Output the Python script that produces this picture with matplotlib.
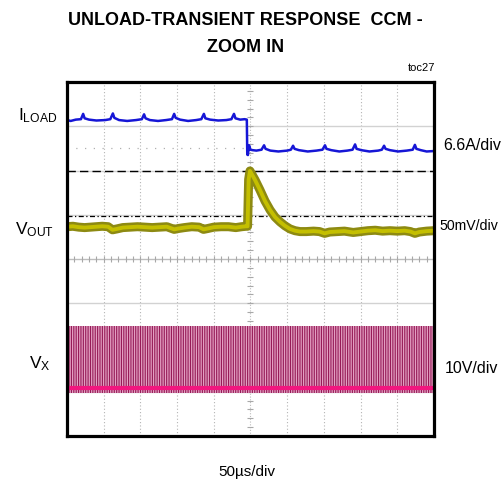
import matplotlib
matplotlib.use("Agg")
import matplotlib.pyplot as plt
from matplotlib import font_manager
import numpy as np

# pick a narrow Arial-like face if there is one
names = {f.name for f in font_manager.fontManager.ttflist}
narrow = "Liberation Sans Narrow" if "Liberation Sans Narrow" in names else "Liberation Sans"
plt.rcParams["font.family"] = ["Liberation Sans", "DejaVu Sans"]
plt.rcParams["hatch.linewidth"] = 0.9

# scope traces, time in us (50us/div), amplitude in screen divisions
iload_t = [0, 5, 12, 19, 22, 24, 30, 40, 52, 59, 62.5, 64.5, 71, 82, 94, 102, 105, 107, 113,
           124, 135, 143, 146, 148, 154, 165, 176, 183, 186.5, 188.5, 195, 206, 217, 224,
           227.5, 229.5, 236, 242, 245, 245.6, 246.5, 248, 250, 253, 258, 265, 268.5, 270.5,
           277, 288, 300, 305, 308, 310, 316, 328, 340, 348, 351.5, 353.5, 360, 371, 382, 389,
           392.5, 394.5, 401, 412, 424, 429, 432, 434, 440, 451, 463, 471, 474, 476, 482, 490, 500]
iload_v = [7.14, 7.12, 7.15, 7.16, 7.28, 7.18, 7.15, 7.13, 7.14, 7.16, 7.29, 7.19, 7.14, 7.12,
           7.14, 7.16, 7.27, 7.18, 7.14, 7.12, 7.14, 7.16, 7.28, 7.19, 7.15, 7.12, 7.14, 7.16,
           7.28, 7.18, 7.15, 7.13, 7.14, 7.16, 7.28, 7.18, 7.15, 7.16, 7.15, 6.36, 6.35, 6.57,
           6.47, 6.46, 6.45, 6.47, 6.57, 6.49, 6.45, 6.43, 6.45, 6.47, 6.56, 6.49, 6.46, 6.43,
           6.45, 6.47, 6.57, 6.49, 6.46, 6.43, 6.45, 6.47, 6.59, 6.49, 6.46, 6.43, 6.45, 6.47,
           6.56, 6.49, 6.46, 6.43, 6.45, 6.47, 6.58, 6.49, 6.46, 6.43, 6.44]

vout_t = [0, 8, 16, 24, 32, 40, 48, 56, 62, 68, 76, 86, 96, 106, 116, 126, 136, 146, 152, 160,
          170, 180, 186, 192, 200, 210, 220, 230, 238, 244, 246, 247.5, 249.3, 256.1, 262.9,
          269.8, 276.6, 283.4, 290.2, 297, 303.8, 310.6, 317.4, 326, 336, 344, 351, 358, 368,
          378, 390, 400, 410, 420, 430, 440, 450, 460, 468, 474, 480, 490, 500]
vout_v = [4.73, 4.74, 4.72, 4.71, 4.72, 4.73, 4.74, 4.73, 4.66, 4.68, 4.71, 4.72, 4.73, 4.72,
          4.71, 4.72, 4.73, 4.67, 4.69, 4.71, 4.73, 4.72, 4.67, 4.69, 4.72, 4.73, 4.73, 4.71,
          4.73, 4.74, 4.74, 5.80, 5.99, 5.79, 5.56, 5.31, 5.11, 4.95, 4.84, 4.75, 4.68, 4.64,
          4.62, 4.62, 4.63, 4.62, 4.58, 4.61, 4.62, 4.63, 4.60, 4.62, 4.64, 4.65, 4.63, 4.64,
          4.63, 4.64, 4.62, 4.58, 4.61, 4.63, 4.64]

vx_t = [0, 500]
vx_high = [2.48, 2.48]
vx_low = [0.98, 0.98]
vx_base = [1.09, 1.09]

cursor_a = 6.0     # dashed cursor
cursor_b = 4.97    # dash-dot cursor
iload_ref = 6.51   # dotted marker on the left half

fig = plt.figure(figsize=(5.03, 4.83), dpi=100)
ax = fig.add_axes([0.1332, 0.0973, 0.7296, 0.7329])
ax.set_xlim(0, 500)
ax.set_ylim(0, 8)
ax.set_xticks([])
ax.set_yticks([])
for s in ax.spines.values():
    s.set_linewidth(2.3)
    s.set_zorder(10)

# graticule
for gx in np.arange(50, 500, 50):
    if gx != 250:
        ax.axvline(gx, color="#b4b4b4", lw=0.8, ls=(0, (1, 2)), zorder=1)
for gy in [1, 2, 3, 5, 6, 7]:
    ax.axhline(gy, color="#d2d2d2", lw=1.0, zorder=1)
ax.axhline(4, color="#bdbdbd", lw=1.0, zorder=1)
ax.axvline(250, color="#bdbdbd", lw=0.8, ls=(0, (1, 1.5)), zorder=1)
ax.plot(np.arange(10, 500, 10), np.full(49, 4.0), ls="none", marker="|", ms=4,
        mew=0.8, color="#a8a8a8", zorder=1)
ax.plot(np.full(39, 250.0), np.arange(0.2, 8, 0.2), ls="none", marker="_", ms=4,
        mew=0.8, color="#a8a8a8", zorder=1)
ax.plot([0, 245], [iload_ref, iload_ref], color="#b0b0b0", lw=0.9, ls=(0, (1, 6)), zorder=1)

# cursors
ax.axhline(cursor_a, color="black", lw=1.0, ls=(0, (6, 3)), zorder=2)
ax.axhline(cursor_b, color="black", lw=0.9, ls=(0, (4, 2, 1, 2)), zorder=2)

# VX switching node
ax.fill_between(vx_t, vx_low, vx_high, facecolor="#961a57", edgecolor="#e3a0c2",
                hatch="|||||||", linewidth=0, zorder=3)
ax.plot(vx_t, vx_base, color="#f2167f", lw=3.0, zorder=4)

# VOUT
ax.plot(vout_t, vout_v, color="#8d8a12", lw=6.5, solid_joinstyle="round", zorder=4)
ax.plot(vout_t, vout_v, color="#c4bf00", lw=2.8, solid_joinstyle="round", zorder=5)

# ILOAD
ax.plot(iload_t, iload_v, color="#1616d6", lw=1.8, zorder=6)

# text
fig.text(0.487, 0.958, "UNLOAD-TRANSIENT RESPONSE  CCM -", ha="center", va="center",
         fontsize=16 if narrow != "Liberation Sans" else 13, fontweight="bold", family=narrow)
fig.text(0.489, 0.902, "ZOOM IN", ha="center", va="center",
         fontsize=16 if narrow != "Liberation Sans" else 13, fontweight="bold", family=narrow)
fig.text(0.865, 0.859, "toc27", ha="right", va="center", fontsize=8)

fig.text(0.036, 0.760, r"$\mathregular{I_{LOAD}}$", ha="left", va="center", fontsize=12.5)
fig.text(0.030, 0.524, r"$\mathregular{V_{OUT}}$", ha="left", va="center", fontsize=12.5)
fig.text(0.058, 0.248, r"$\mathregular{V_{X}}$", ha="left", va="center", fontsize=12.5)

fig.text(0.881, 0.698, "6.6A/div", ha="left", va="center", fontsize=11.5)
fig.text(0.874, 0.533, "50mV/div", ha="left", va="center", fontsize=10.2)
fig.text(0.885, 0.238, "10V/div", ha="left", va="center", fontsize=11.5)
fig.text(0.491, 0.023, "50\u00b5s/div", ha="center", va="center", fontsize=11)

fig.savefig("out.png", dpi=100)
